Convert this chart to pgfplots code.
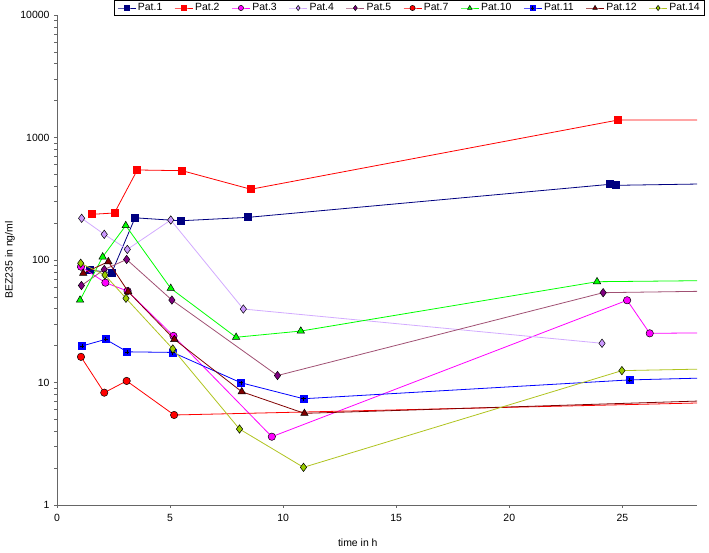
\documentclass[border=0pt]{standalone}
\usepackage{fontspec}
\setmainfont{Liberation Sans}
\usepackage{pgfplots}
\pgfplotsset{compat=1.18}
\usetikzlibrary{plotmarks}
\definecolor{c1}{RGB}{0,0,128}
\definecolor{c2}{RGB}{255,0,0}
\definecolor{c3}{RGB}{255,0,255}
\definecolor{c4f}{RGB}{204,153,255}
\definecolor{c4l}{RGB}{210,170,255}
\definecolor{c5f}{RGB}{128,0,128}
\definecolor{c5l}{RGB}{160,80,115}
\definecolor{c10}{RGB}{0,255,0}
\definecolor{c11}{RGB}{0,0,255}
\definecolor{c12}{RGB}{128,0,0}
\definecolor{c14f}{RGB}{153,204,0}
\definecolor{c14l}{RGB}{175,195,30}
\pgfdeclareplotmark{sqplus}{%
  \pgfpathrectangle{\pgfqpoint{-\pgfplotmarksize}{-\pgfplotmarksize}}{\pgfqpoint{2\pgfplotmarksize}{2\pgfplotmarksize}}%
  \pgfusepathqfillstroke
  \begin{pgfscope}%
  \pgfsetstrokecolor{black}%
  \pgfsetlinewidth{0.6pt}%
  \pgfpathmoveto{\pgfqpoint{-0.6\pgfplotmarksize}{0pt}}%
  \pgfpathlineto{\pgfqpoint{0.6\pgfplotmarksize}{0pt}}%
  \pgfpathmoveto{\pgfqpoint{0pt}{-0.6\pgfplotmarksize}}%
  \pgfpathlineto{\pgfqpoint{0pt}{0.6\pgfplotmarksize}}%
  \pgfusepathqstroke
  \end{pgfscope}}
\newcommand\lf{\fontsize{10.5}{12}\selectfont}
\begin{document}
\begin{tikzpicture}
\useasboundingbox (-57bp,-48bp) rectangle (652bp,505bp);
\begin{axis}[
  at={(0,0)}, anchor=south west,
  scale only axis, width=640bp, height=490bp,
  ymode=log, xmin=0, xmax=28.3, ymin=1, ymax=10000,
  axis lines=left, axis line style={-, draw=gray!80!black, line width=0.8pt},
  xtick={0,5,10,15,20,25},
  ytick={1,10,100,1000,10000},
  yticklabels={1,10,100,1000,10000},
  minor ytick={},
  tick align=outside, major tick length=3bp, tick style={draw=gray!80!black, line width=0.6pt},
  /pgf/number format/assume math mode=true,
  ticklabel style={font=\lf},
  xticklabel style={yshift=-3bp},
  yticklabel style={xshift=-1bp},
  xlabel={time in h}, ylabel={BEZ235 in ng/ml},
  label style={font=\lf},
  xlabel style={at={(axis description cs:0.47,-0.0776)}, anchor=center},
  ylabel style={at={(axis description cs:-0.0734,0.5)}, anchor=center},
  clip marker paths=true,
  every axis plot/.append style={line width=0.8pt},
  legend columns=10,
  legend style={at={(axis description cs:1.0125,1.0306)}, anchor=north east,
    draw=black, line width=0.6pt, font=\lf, inner xsep=3bp, inner ysep=1.3bp,
    /tikz/every even column/.append style={column sep=10bp}},
  legend image code/.code={\draw[mark repeat=2,mark phase=2,#1,mark size=2.6bp] plot coordinates {(0bp,0bp) (9bp,0bp) (18bp,0bp)};},
]
\addplot[c1, mark=square*, mark size=3.5bp, mark options={fill=c1, draw=c1}] coordinates {
 (1.46,82.8) (2.42,78.8) (3.45,221) (5.47,209) (8.46,223) (24.47,415) (24.73,407) (48,476)};
\addlegendentry{Pat.1}
\addplot[c2, mark=square*, mark size=3.5bp, mark options={fill=c2, draw=c2}] coordinates {
 (1.56,236) (2.54,242) (3.55,543) (5.53,536) (8.57,378) (24.81,1389) (48,1389)};
\addlegendentry{Pat.2}
\addplot[c3, mark=*, mark size=3.7bp, mark options={fill=c3, draw=black, line width=0.5pt}] coordinates {
 (1.06,88.2) (2.14,65.3) (3.12,55.8) (5.15,24) (9.5,3.61) (25.21,46.9) (26.21,25.2) (48,27.2)};
\addlegendentry{Pat.3}
\addplot[c4l, mark=diamond*, mark size=4.2bp, mark options={fill=c4f, draw=black, line width=0.5pt}] coordinates {
 (1.09,219) (2.09,162) (3.11,122) (5.03,212) (8.24,39.8) (24.1,20.9)};
\addlegendentry{Pat.4}
\addplot[c5l, mark=diamond*, mark size=4.2bp, mark options={fill=c5f, draw=black, line width=0.5pt}] coordinates {
 (1.08,61.9) (2.09,83.6) (3.08,101) (5.08,47.1) (9.75,11.4) (24.15,54.1) (48,62.5)};
\addlegendentry{Pat.5}
\addplot[c2, mark=*, mark size=3.7bp, mark options={fill=c2, draw=black, line width=0.5pt}] coordinates {
 (1.06,16.2) (2.09,8.26) (3.08,10.3) (5.18,5.43) (48,8.24)};
\addlegendentry{Pat.7}
\addplot[c10, mark=triangle*, mark size=4.3bp, mark options={fill=c10, draw=black, line width=0.5pt}] coordinates {
 (1.02,47.1) (2.02,106) (3.04,191) (5.03,58.7) (7.92,23.4) (10.78,26.3) (23.88,66.5) (48,73.6)};
\addlegendentry{Pat.10}
\addplot[c11, mark=sqplus, mark size=3.5bp, mark options={fill=c11, draw=c11}] coordinates {
 (1.12,19.9) (2.15,22.5) (3.11,17.8) (5.12,17.6) (8.13,9.96) (10.9,7.37) (25.32,10.5) (48,13.4)};
\addlegendentry{Pat.11}
\addplot[c12, mark=triangle*, mark size=4.3bp, mark options={fill=c12, draw=black, line width=0.5pt}] coordinates {
 (1.16,77.9) (2.27,96.9) (3.15,55.1) (5.19,22.5) (8.17,8.41) (10.94,5.6) (48,9.16)};
\addlegendentry{Pat.12}
\addplot[c14l, mark=diamond*, mark size=4.2bp, mark options={fill=c14f, draw=black, line width=0.5pt}] coordinates {
 (1.05,94) (2.12,75.4) (3.05,48.7) (5.12,18.8) (8.07,4.17) (10.9,2.03) (24.98,12.5) (48,15.1)};
\addlegendentry{Pat.14}
\end{axis}
\end{tikzpicture}
\end{document}
